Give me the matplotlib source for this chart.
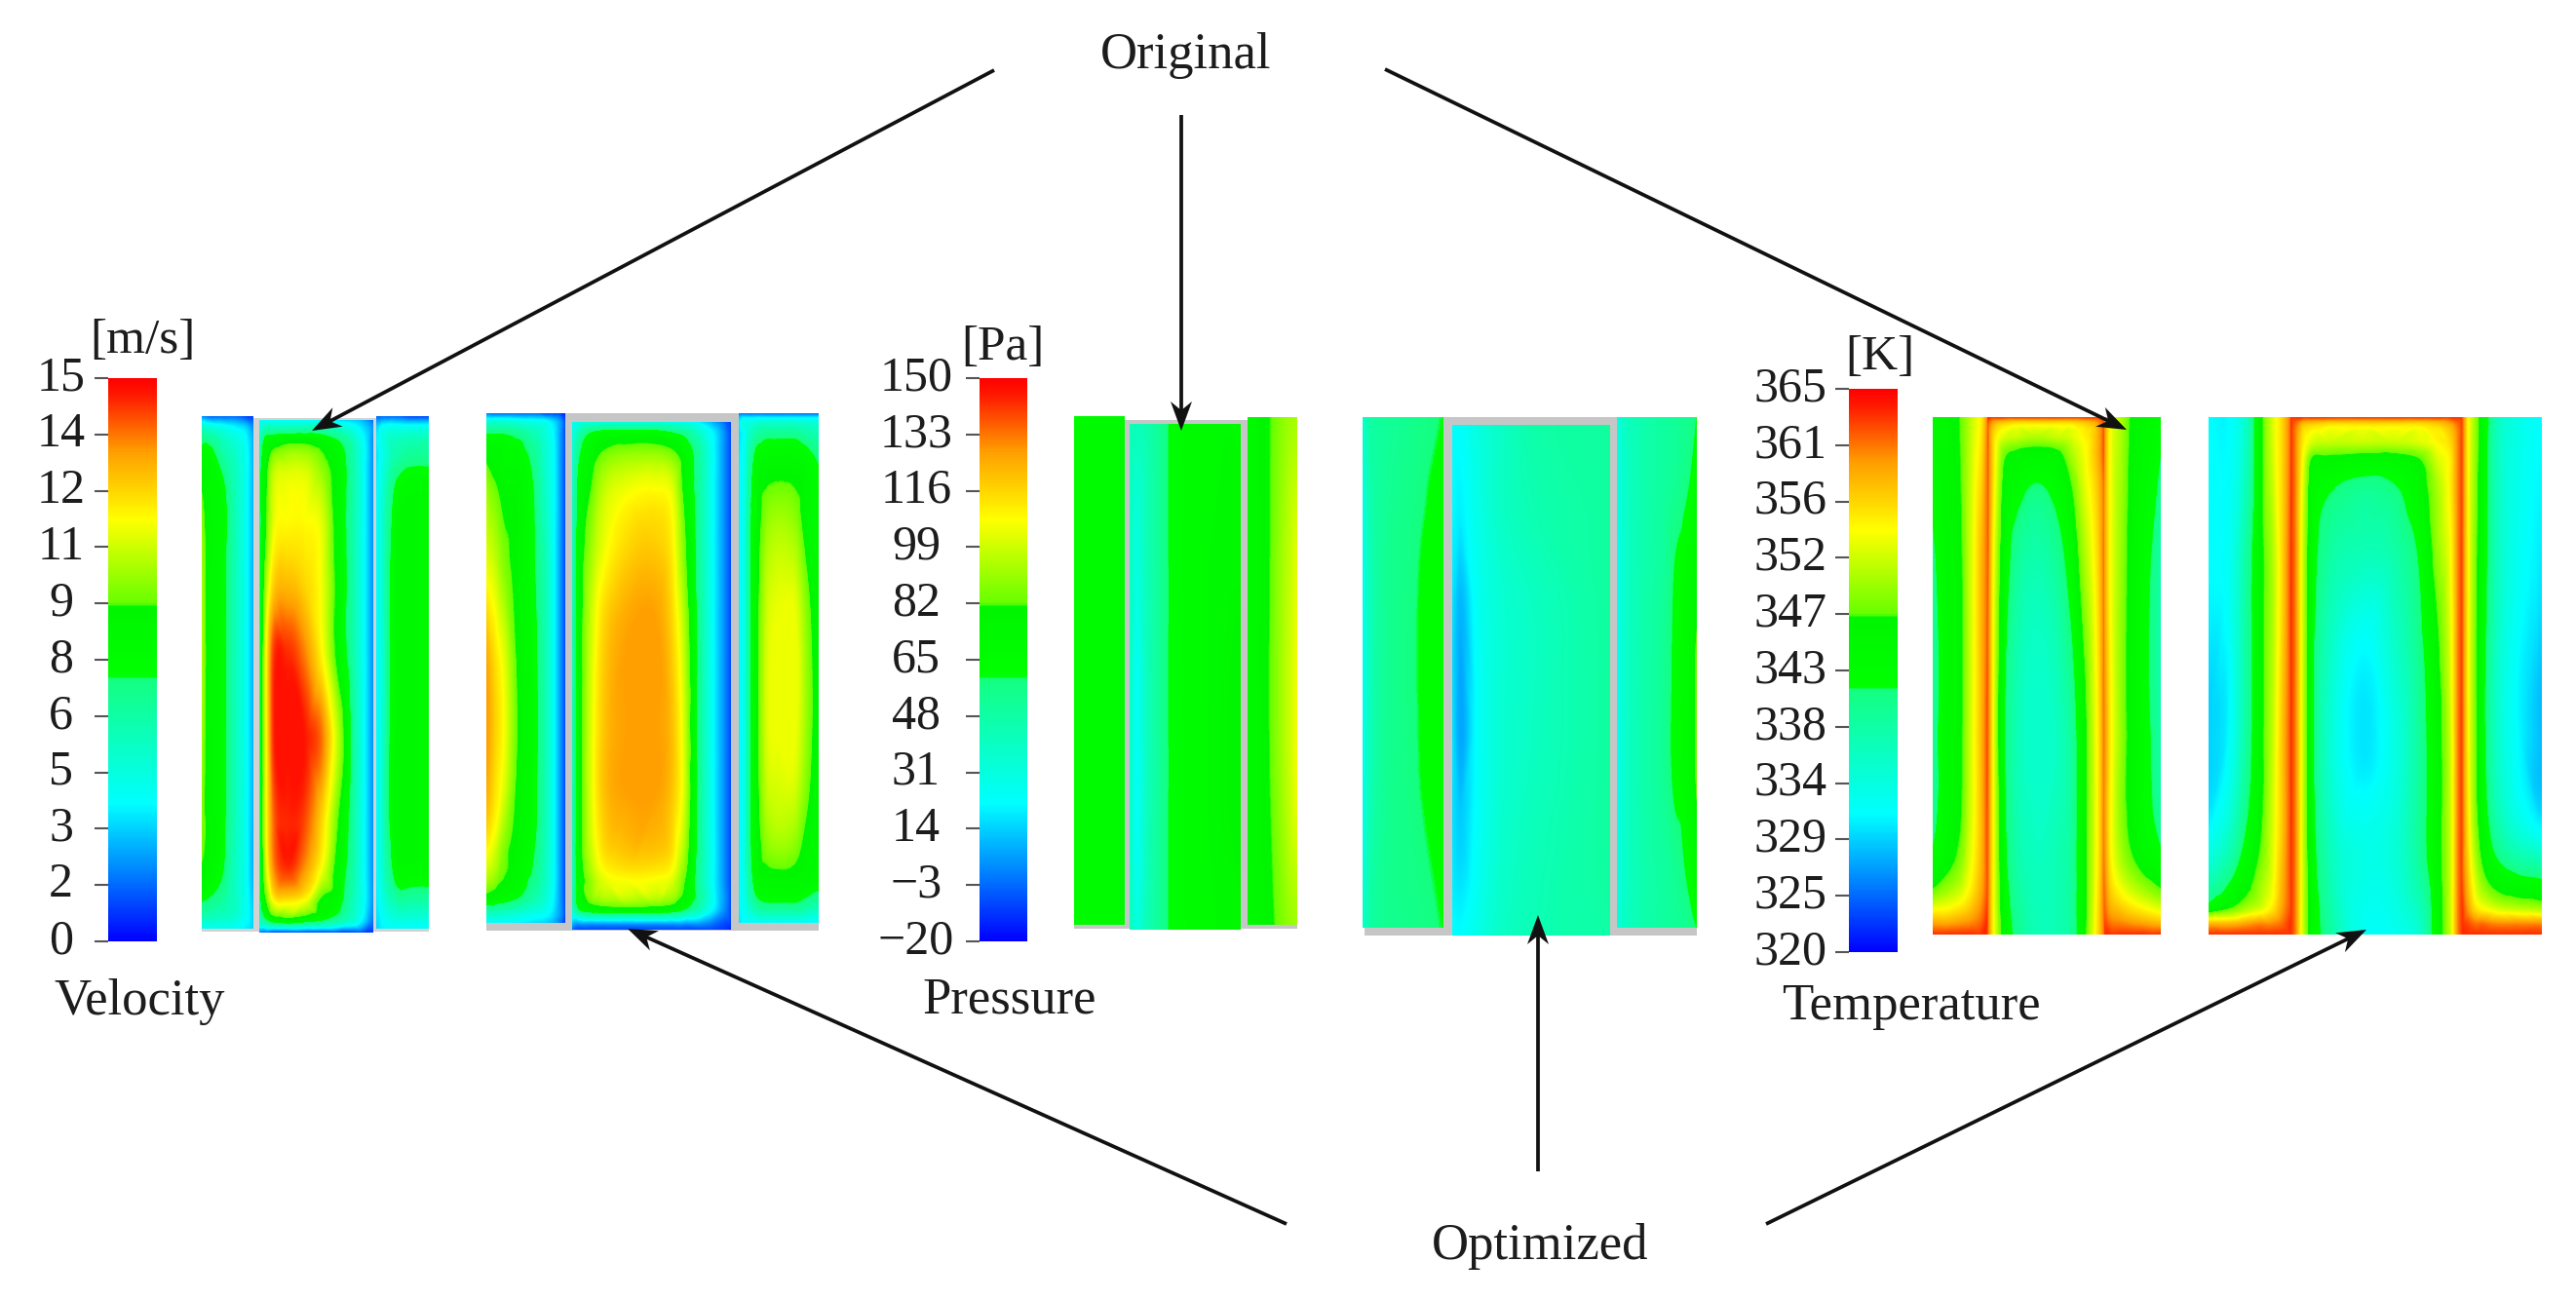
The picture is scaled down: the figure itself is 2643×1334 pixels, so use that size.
import numpy as np
import matplotlib
matplotlib.use("Agg")
import matplotlib.pyplot as plt
import matplotlib.tri as mtri
from matplotlib.cm import ScalarMappable
from matplotlib.colors import LinearSegmentedColormap, Normalize
from matplotlib.patches import Rectangle, Polygon

plt.rcParams['font.family'] = ['Liberation Serif', 'DejaVu Serif']

# colorbar tick labels as printed
vel_labels = ['0', '2', '3', '5', '6', '8', '9', '11', '12', '14', '15']
pre_labels = ['\u221220', '\u22123', '14', '31', '48', '65', '82', '99', '116', '133', '150']
tem_labels = ['320', '325', '329', '334', '338', '343', '347', '352', '356', '361', '365']

# ---- velocity fields, m/s. x,y are fractions of the block, rows run top to bottom
vel_o1_x = [0, .15, .4, .65, .85, 1]
vel_o1_y = [0, .02, .07, .15, .35, .55, .75, .9, .97, 1]
vel_o1 = [[2, 1.5, 1.5, 1.5, 1, .8],
          [5, 4.5, 4, 3.5, 3, 2],
          [7.5, 7.5, 6, 5, 4, 2.5],
          [9, 8, 7.5, 5.5, 4, 2.5],
          [10, 8.2, 7.5, 5.5, 4, 2.5],
          [10, 8.2, 7.5, 5.5, 4, 2.5],
          [9.5, 8.2, 7.5, 5.5, 4, 2.5],
          [8.5, 8, 7, 5.2, 4, 2.5],
          [6, 5.8, 5.5, 5, 4, 3],
          [4, 4, 4, 3.8, 3.5, 3]]

vel_o2_x = [0, .05, .12, .25, .4, .55, .7, .82, .92, 1]
vel_o2_y = [0, .01, .04, .09, .2, .32, .45, .62, .78, .88, .94, .98, 1]
vel_o2 = [[3.5, 3.8, 3.8, 3.8, 3.8, 3.5, 3.2, 3, 2.5, 1.5],
          [4, 5, 5, 5, 5, 5, 4.5, 3.8, 3, 2],
          [5.5, 7.5, 8, 8.5, 8.5, 8, 7, 5.5, 3.7, 2],
          [6.5, 8.2, 10, 10.5, 10.5, 9.5, 8, 6, 3.8, 2],
          [6.5, 8.5, 10.8, 11.3, 11.3, 10.8, 8, 6, 3.8, 2],
          [6.5, 9.5, 12, 12.5, 12, 11, 8.2, 6, 3.8, 2],
          [6.5, 10.5, 14, 14.3, 13.3, 11.3, 8.2, 6, 3.8, 2],
          [6.5, 10.5, 14.2, 14.7, 14.6, 13.5, 10, 6.5, 3.8, 2],
          [6.5, 10.5, 13.5, 14.4, 14, 12, 8.8, 6.2, 3.8, 2],
          [6.5, 10, 13, 14.2, 13, 11, 8, 6, 3.8, 2],
          [6.5, 8.5, 11, 11.5, 11, 8.5, 7.5, 5.5, 3.8, 2],
          [5, 6, 7, 7.5, 7, 6.5, 5.5, 4.5, 3, 1.5],
          [2, 1.5, 1, 1, 1, 1, 1, 1, 1, .8]]

vel_o3_x = [0, .1, .22, .4, .7, 1]
vel_o3_y = [0, .02, .08, .15, .5, .9, .97, 1]
vel_o3 = [[1.5, 1.5, 1.5, 1.5, 1, 1],
          [3, 3.7, 4, 4, 4, 4],
          [3.3, 4, 5, 6, 6.5, 6.5],
          [3.5, 4.5, 6, 7.5, 8, 8],
          [3.5, 4.5, 6.5, 8, 8.3, 8.3],
          [3.5, 4.5, 6, 7.5, 7.5, 7.5],
          [3.3, 3.8, 4.5, 5, 5, 5],
          [3, 3.5, 3.7, 3.7, 3.7, 3.7]]

vel_n1_x = [0, .1, .22, .42, .62, .76, .86, .95, 1]
vel_n1_y = [0, .015, .04, .1, .3, .5, .7, .85, .95, .985, 1]
vel_n1 = [[1.8, 1.5, 1.5, 1.5, 1.5, 1, 1, .8, .5],
          [4.5, 4.5, 4.5, 4.2, 4, 3.7, 3, 2, 1],
          [7, 7, 7, 6.5, 5.5, 4.5, 3.5, 2, 1],
          [9, 8.5, 8, 7.8, 6.5, 4.8, 3.7, 2, 1],
          [11, 10.5, 9.5, 8.3, 7, 5.5, 3.7, 2, 1],
          [13, 12, 11, 8.6, 7.3, 5.5, 3.7, 2, 1],
          [13, 12, 11, 8.6, 7.3, 5.5, 3.7, 2, 1],
          [11.5, 10.8, 9.5, 8.2, 7, 5.3, 3.7, 2, 1],
          [8.5, 8.2, 7.8, 7, 5.8, 4.7, 3.5, 2, 1],
          [5, 5, 4.8, 4.5, 4, 3.7, 3, 2, 1],
          [3.8, 3.7, 3.7, 3.5, 3.2, 3, 2.5, 1.5, .8]]

vel_n2_x = [0, .04, .12, .2, .35, .53, .63, .7, .8, .89, .96, 1]
vel_n2_y = [0, .02, .05, .13, .25, .4, .6, .75, .9, .96, .99, 1]
vel_n2 = [[4, 4.2, 4.5, 4.5, 4.5, 4.5, 4.2, 4, 3.5, 2.5, 1.5, 1],
          [4.2, 5.5, 7, 7.5, 7.5, 7.5, 7, 6.5, 5, 3.5, 2, 1],
          [4.5, 6.5, 8, 8.8, 9.2, 9.2, 8.8, 8, 6, 3.7, 2, 1],
          [5, 7.5, 9, 10.3, 11, 11.2, 10.8, 8.8, 6.2, 3.7, 2, 1],
          [5.2, 7.8, 9.8, 11, 12, 12.2, 11.5, 9.5, 6.3, 3.7, 2, 1],
          [5.5, 8, 10.5, 12, 12.9, 13, 12, 10.3, 6.5, 3.7, 2, 1],
          [5.5, 8, 10.8, 12.3, 13, 13, 12.4, 10.8, 6.5, 3.7, 2, 1],
          [5.5, 8, 10.8, 12.3, 12.9, 12.9, 12.2, 10.8, 6.5, 3.7, 2, 1],
          [5.3, 7.8, 9.8, 10.9, 11.3, 11.2, 10.8, 9.3, 6.2, 3.7, 2, 1],
          [5, 7, 8, 8.3, 8.5, 8.3, 8, 7.2, 5.5, 3.5, 2, 1],
          [2.5, 2, 2, 2, 2, 2, 2, 2, 2, 1.5, 1, .8],
          [1.5, 1, 1, 1, 1, 1, 1, 1, 1, 1, .8, .5]]

vel_n3_x = [0, .06, .13, .22, .35, .5, .7, .85, 1]
vel_n3_y = [0, .01, .04, .1, .2, .4, .7, .85, .92, .97, 1]
vel_n3 = [[1.5, 1.5, 1.5, 1.5, 1.5, 1.5, 1.5, 1.5, 1.5],
          [3, 3.7, 3.7, 3.8, 3.8, 3.8, 3.8, 3.8, 3.8],
          [3.2, 3.8, 5, 6, 6.5, 6.5, 6.5, 6, 5.5],
          [3.5, 4, 6, 7.8, 8.2, 8.3, 8.2, 7.8, 7],
          [3.5, 4.2, 6.5, 8.2, 9.5, 9.8, 9.5, 8.3, 7.5],
          [3.5, 4.2, 6.5, 8.5, 10.5, 11, 11, 9.5, 8],
          [3.5, 4.2, 6.5, 8.5, 10.5, 10.8, 10.8, 9.5, 8],
          [3.5, 4.2, 6.5, 8.2, 9.5, 9.8, 9.5, 8.5, 7.8],
          [3.5, 4.2, 6, 7.8, 8.2, 8.3, 8.2, 8, 7.5],
          [3.5, 4, 5, 6, 6.5, 6.5, 6.5, 6, 5.5],
          [3.3, 3.7, 3.7, 3.7, 3.7, 3.7, 3.7, 3.7, 3.7]]

# ---- pressure fields, Pa
pre_o1_x = [0, .05, 1]
pre_o1_y = [0, 1]
pre_o1 = [[58, 68, 70],
          [58, 68, 70]]

pre_o2_x = [0, .06, .15, .3, .38, .7, .85, 1]
pre_o2_y = [0, .25, .5, .8, 1]
pre_o2 = [[45, 42, 45, 55, 62, 68, 70, 70],
          [42, 32, 42, 55, 62, 70, 72, 73],
          [42, 26, 40, 55, 62, 70, 75, 80],
          [42, 26, 40, 55, 62, 70, 75, 80],
          [45, 32, 42, 55, 62, 68, 72, 72]]

pre_o3_x = [0, .4, .7, 1]
pre_o3_y = [0, .3, .7, 1]
pre_o3 = [[70, 80, 88, 93],
          [70, 80, 92, 103],
          [70, 80, 92, 105],
          [70, 78, 86, 92]]

pre_n1_x = [0, .06, .2, .6, 1]
pre_n1_y = [0, .3, .7, 1]
pre_n1 = [[35, 45, 50, 55, 60],
          [25, 38, 50, 58, 64],
          [25, 38, 50, 58, 64],
          [35, 45, 52, 56, 60]]

pre_n2_x = [0, .05, .15, .3, .45, 1]
pre_n2_y = [0, .15, .35, .6, .8, 1]
pre_n2 = [[23, 23, 30, 38, 45, 50],
          [22, 20, 28, 38, 43, 50],
          [18, 10, 24, 34, 38, 50],
          [18, 7, 22, 34, 38, 50],
          [18, 14, 23, 35, 40, 50],
          [23, 22, 28, 38, 42, 48]]

pre_n3_x = [0, .08, .3, .6, .72, .9, 1]
pre_n3_y = [0, .1, .3, .5, .7, .9, 1]
pre_n3 = [[30, 38, 45, 50, 52, 55, 60],
          [30, 36, 45, 50, 52, 58, 65],
          [26, 35, 45, 52, 60, 68, 75],
          [26, 35, 45, 54, 62, 70, 85],
          [26, 35, 45, 54, 62, 70, 85],
          [30, 36, 45, 50, 53, 62, 70],
          [32, 38, 45, 50, 52, 55, 60]]

# ---- temperature fields, K
tem_o1_x = [0, .25, .5, .7, .9, 1]
tem_o1_y = [0, .3, .6, .85, .92, .97, 1]
tem_o1 = [[344, 345, 347, 351, 355, 360],
          [340, 344, 346, 352, 358, 361],
          [339, 344, 346, 352, 358, 362],
          [342, 345, 348, 353, 358, 362],
          [348, 350, 352, 355, 359, 362],
          [357, 357, 358, 359, 361, 363],
          [363, 363, 363, 363, 363, 363]]

tem_o2_x = [0, .03, .08, .14, .25, .4, .6, .72, .82, .9, .96, 1]
tem_o2_y = [0, .01, .04, .07, .13, .3, .6, .85, 1]
tem_o2 = [[363, 363, 363, 363, 363, 363, 363, 363, 363, 363, 363, 363],
          [362, 360, 358, 357, 356, 356, 356, 356, 357, 358, 360, 362],
          [362, 358, 354, 352, 351, 350, 351, 352, 354, 356, 359, 362],
          [362, 358, 353, 348, 346, 345, 346, 350, 353, 356, 359, 362],
          [362, 358, 352, 346, 343, 341, 343, 347, 352, 355, 358, 361],
          [362, 357, 350, 344, 339, 337, 339, 343, 349, 353, 357, 361],
          [362, 357, 349, 342, 337, 335, 336, 339, 345, 351, 356, 361],
          [362, 357, 350, 343, 338, 336, 337, 339, 345, 351, 356, 361],
          [362, 357, 351, 345, 340, 337, 337, 339, 345, 352, 357, 361]]

tem_o3_x = [0, .1, .3, .5, .75, 1]
tem_o3_y = [0, .3, .6, .85, .92, .97, 1]
tem_o3 = [[360, 354, 350, 346, 344, 342],
          [359, 354, 349, 345, 342, 338],
          [360, 355, 349, 345, 342, 338],
          [360, 355, 350, 347, 344, 342],
          [361, 357, 354, 352, 350, 348],
          [362, 360, 359, 358, 357, 356],
          [363, 363, 363, 363, 363, 363]]

tem_n1_x = [0, .25, .45, .62, .78, .9, 1]
tem_n1_y = [0, .3, .6, .8, .9, .95, .98, 1]
tem_n1 = [[331, 331, 335, 345, 352, 356, 361],
          [331, 332, 338, 345, 350, 356, 362],
          [329, 331, 338, 345, 351, 357, 362],
          [331, 335, 341, 346, 352, 357, 362],
          [337, 341, 345, 349, 353, 358, 362],
          [344, 347, 350, 352, 355, 359, 362],
          [358, 358, 359, 360, 360, 361, 363],
          [363, 363, 363, 363, 363, 363, 363]]

tem_n2_x = [0, .03, .07, .12, .22, .42, .6, .75, .85, .93, .97, 1]
tem_n2_y = [0, .012, .05, .08, .13, .25, .45, .65, .85, 1]
tem_n2 = [[363, 363, 363, 363, 363, 363, 363, 363, 363, 363, 363, 363],
          [363, 361, 358, 357, 356, 356, 356, 356, 357, 359, 361, 363],
          [363, 360, 355, 352, 351, 351, 351, 352, 354, 356, 360, 363],
          [363, 360, 354, 347, 346, 345, 345, 347, 352, 355, 360, 363],
          [363, 360, 353, 345, 342, 340, 341, 345, 350, 355, 360, 363],
          [363, 360, 352, 344, 339, 337, 338, 342, 349, 354, 360, 363],
          [363, 360, 352, 343, 336, 331, 335, 340, 346, 353, 360, 363],
          [363, 360, 352, 343, 335, 330, 333, 339, 345, 352, 360, 363],
          [363, 360, 352, 344, 337, 333, 334, 339, 345, 352, 360, 363],
          [363, 360, 352, 345, 339, 332, 332, 335, 344, 352, 360, 363]]

tem_n3_x = [0, .08, .15, .25, .45, .7, 1]
tem_n3_y = [0, .3, .6, .8, .9, .95, .98, 1]
tem_n3 = [[362, 354, 350, 345, 336, 333, 331],
          [362, 354, 349, 344, 336, 332, 330],
          [362, 354, 349, 343, 335, 331, 328],
          [362, 355, 350, 345, 338, 334, 331],
          [362, 357, 353, 349, 345, 343, 342],
          [363, 359, 356, 354, 352, 351, 350],
          [363, 362, 361, 361, 360, 360, 360],
          [363, 363, 363, 363, 363, 363, 363]]

# the fluent style scale with its flat green step
cmap = LinearSegmentedColormap.from_list('cfd', [
    (0.0, (0, 0, 1)),
    (0.12, (0, .5, 1)),
    (0.245, (0, 1, 1)),
    (0.466, (.08, 1, .5)),
    (0.47, (0, 1, 0)),
    (0.595, (0, .96, 0)),
    (0.60, (.4, 1, 0)),
    (0.75, (1, 1, 0)),
    (0.87, (1, .62, 0)),
    (0.97, (1, .1, 0)),
    (1.0, (1, 0, 0))], N=512)

GRAY = '#c6c6c6'
TXT = '#1c1c1c'

fig = plt.figure(figsize=(26.43, 13.34), dpi=100)
ax = fig.add_axes([0, 0, 1, 1])


def draw_block(x0, x1, y0, y1, xs, ys, vals, norm):
    # smooth the read grid with matplotlib's own cubic triangle interpolator
    vals = np.array(vals, dtype=float)
    X, Y = np.meshgrid(np.array(xs) * (x1 - x0), np.array(ys) * (y1 - y0))
    tri = mtri.Triangulation(X.ravel(), Y.ravel())
    interp = mtri.CubicTriInterpolator(tri, vals.ravel(), kind='geom')
    nx = int(x1 - x0)
    ny = int(y1 - y0)
    px = (np.arange(nx) + .5) * (x1 - x0) / nx
    py = (np.arange(ny) + .5) * (y1 - y0) / ny
    Z = interp(*np.meshgrid(px, py))
    # cubic overshoot would jump over the green step of the scale
    Z = np.clip(Z, vals.min(), vals.max())
    ax.imshow(Z, extent=(x0, x1, y1, y0), origin='upper', aspect='auto', cmap=cmap, norm=norm,
              interpolation='bilinear', zorder=2)


def draw_bar(x0, x1, y0, y1, norm, labels, pad):
    w, h = 2643., 1334.
    cax = fig.add_axes([x0 / w, 1 - y1 / h, (x1 - x0) / w, (y1 - y0) / h])
    cb = fig.colorbar(ScalarMappable(norm=norm, cmap=cmap), cax=cax)
    cb.outline.set_visible(False)
    cax.yaxis.set_ticks_position('left')
    cax.set_yticks(np.linspace(norm.vmin, norm.vmax, len(labels)))
    cax.set_yticklabels(labels)
    cax.tick_params(axis='y', length=10, width=1.5, color='#555555', pad=pad,
                    labelsize=36, labelcolor=TXT)
    for t in cax.get_yticklabels():
        t.set_ha('center')
        t.set_va('center')


def draw_arrow(a, b):
    a = np.array(a, dtype=float)
    b = np.array(b, dtype=float)
    d = (b - a) / np.hypot(*(b - a))
    n = np.array([-d[1], d[0]])
    ax.plot([a[0], (b - d * 15)[0]], [a[1], (b - d * 15)[1]], color='#111111', lw=2.7,
            solid_capstyle='butt', zorder=5)
    head = [b, b - d * 30 + n * 11, b - d * 21, b - d * 30 - n * 11]
    ax.add_patch(Polygon(head, closed=True, color='#111111', lw=0, zorder=6))


vel_norm = Normalize(0, 15)
pre_norm = Normalize(-20, 150)
tem_norm = Normalize(320, 365)

# velocity
ax.add_patch(Rectangle((207, 429), 233, 527, color='#d2d2d2', lw=0))
draw_block(207, 260, 427, 953, vel_o1_x, vel_o1_y, vel_o1, vel_norm)
draw_block(265.5, 382, 432, 957.5, vel_o2_x, vel_o2_y, vel_o2, vel_norm)
draw_block(386, 440, 427, 953, vel_o3_x, vel_o3_y, vel_o3, vel_norm)
ax.add_patch(Rectangle((498.5, 424), 341.5, 531, color=GRAY, lw=0))
draw_block(498.5, 579.5, 424, 947, vel_n1_x, vel_n1_y, vel_n1, vel_norm)
draw_block(587, 750, 433, 954, vel_n2_x, vel_n2_y, vel_n2, vel_norm)
draw_block(758, 840, 424, 947, vel_n3_x, vel_n3_y, vel_n3, vel_norm)

# pressure
ax.add_patch(Rectangle((1102, 431), 229, 522, color=GRAY, lw=0))
draw_block(1101.5, 1153, 428, 949.5, pre_o1_x, pre_o1_y, pre_o1, pre_norm)
draw_block(1159, 1273, 435, 954, pre_o2_x, pre_o2_y, pre_o2, pre_norm)
draw_block(1280, 1330.5, 429, 949.5, pre_o3_x, pre_o3_y, pre_o3, pre_norm)
ax.add_patch(Rectangle((1400, 428), 341, 532, color=GRAY, lw=0))
draw_block(1398, 1480.5, 428, 952, pre_n1_x, pre_n1_y, pre_n1, pre_norm)
draw_block(1490, 1651.5, 436.5, 960, pre_n2_x, pre_n2_y, pre_n2, pre_norm)
draw_block(1659, 1741, 428, 952, pre_n3_x, pre_n3_y, pre_n3, pre_norm)

# temperature
draw_block(1983, 2038.7, 428.5, 959.5, tem_o1_x, tem_o1_y, tem_o1, tem_norm)
draw_block(2038.7, 2158.6, 428.5, 959.5, tem_o2_x, tem_o2_y, tem_o2, tem_norm)
draw_block(2158.6, 2216, 428.5, 959.5, tem_o3_x, tem_o3_y, tem_o3, tem_norm)
draw_block(2266, 2349.6, 428.5, 959.5, tem_n1_x, tem_n1_y, tem_n1, tem_norm)
draw_block(2349.6, 2525.7, 428.5, 959.5, tem_n2_x, tem_n2_y, tem_n2, tem_norm)
draw_block(2525.7, 2607, 428.5, 959.5, tem_n3_x, tem_n3_y, tem_n3, tem_norm)

ax.set_xlim(0, 2643)
ax.set_ylim(1334, 0)
ax.axis('off')

draw_bar(110.5, 161, 388, 966, vel_norm, vel_labels, 24.5)
draw_bar(1004.5, 1054, 388, 966, pre_norm, pre_labels, 36.5)
draw_bar(1897, 1947, 399, 977, tem_norm, tem_labels, 33.5)

# units and names
for x, y, s in [(146, 350, '[m/s]'), (1029, 357, '[Pa]'), (1929, 367, '[K]')]:
    ax.text(x, y, s, ha='center', va='center', fontsize=37, color=TXT)
for x, y, s in [(143, 1028, 'Velocity'), (1036, 1027, 'Pressure'), (1961, 1033, 'Temperature'),
                (1217, 57, 'Original'), (1580, 1279, 'Optimized')]:
    ax.text(x, y, s, ha='center', va='center', fontsize=38, color=TXT)

# leader arrows
draw_arrow((1020, 72), (320, 442))
draw_arrow((1212, 118), (1212, 442))
draw_arrow((1421, 71), (2182, 441))
draw_arrow((1320, 1256), (644, 953))
draw_arrow((1578, 1202), (1578, 939))
draw_arrow((1812, 1256), (2428, 954))

fig.savefig('out.png', dpi=100)
